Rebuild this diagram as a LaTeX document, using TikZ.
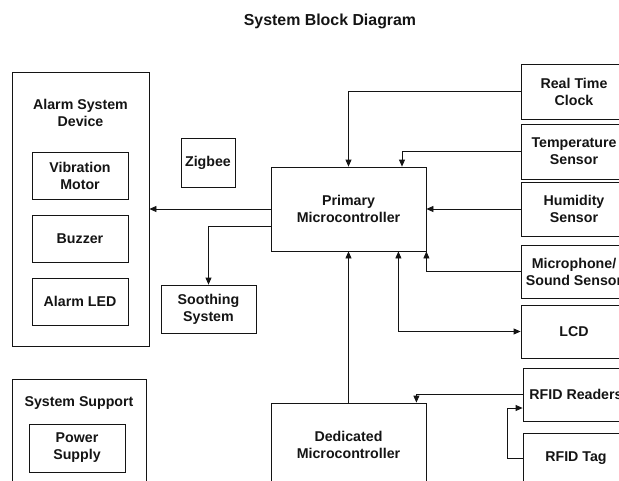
\documentclass[tikz,border=0pt]{standalone}
\usepackage{fontspec}
\setmainfont{Liberation Sans}
\usepackage{xcolor}
\usetikzlibrary{arrows.meta,positioning,calc}
\definecolor{dink}{HTML}{141414}

\begin{document}
\begin{tikzpicture}[x=1pt,y=-1pt,
  every node/.style={font=\bfseries\fontsize{14.2}{17}\selectfont,text=dink,align=center},
  blk/.style={draw=dink,line width=0.8pt,inner sep=0pt},
  wire/.style={draw=dink,line width=0.8pt},
  arr/.style={wire,-{Triangle[length=7pt,width=6pt]}},
  dbl/.style={wire,{Triangle[length=7pt,width=6pt]}-{Triangle[length=7pt,width=6pt]}}]
  \useasboundingbox (0,0) rectangle (619,480);
  \clip (0,0) rectangle (619,480);

  \node[font=\bfseries\fontsize{15.9}{19}\selectfont] (title) at (330,21) {System Block Diagram};

  \node[blk,minimum width=137,minimum height=274] (alarm) at (80.5,209) {};
  \node (alarmlbl) at (80.5,113) {Alarm System\\Device};
  \node[blk,minimum width=96,minimum height=47] (vib) at (80,175.5) {Vibration\\Motor};
  \node[blk,minimum width=96,minimum height=47] (buzzer) at (80,238.5) {Buzzer};
  \node[blk,minimum width=96,minimum height=47] (led) at (80,301.5) {Alarm LED};

  \node[blk,minimum width=134,minimum height=141] (support) at (79,449.5) {};
  \node (supportlbl) at (79,403) {System Support};
  \node[blk,minimum width=96,minimum height=48] (power) at (77,448) {Power\\Supply};

  \node[blk,minimum width=54,minimum height=49] (zigbee) at (208,162.5) {Zigbee};
  \node[blk,minimum width=95,minimum height=48] (soothing) at (208.5,309) {Soothing\\System};

  \node[blk,minimum width=155,minimum height=84] (primary) at (348.5,209) {Primary\\Microcontroller};
  \node[blk,minimum width=155,minimum height=84] (dedicated) at (348.5,445) {Dedicated\\Microcontroller};

  \node[blk,minimum width=106,minimum height=55] (rtc) at (574,91.5) {Real Time\\Clock};
  \node[blk,minimum width=106,minimum height=55] (temp) at (574,151.5) {Temperature\\Sensor};
  \node[blk,minimum width=106,minimum height=54] (humid) at (574,209) {Humidity\\Sensor};
  \node[blk,minimum width=106,minimum height=53] (mic) at (574,271.5) {Microphone/\\Sound Sensor};
  \node[blk,minimum width=106,minimum height=53] (lcd) at (574,331.5) {LCD};
  \node[blk,minimum width=106,minimum height=53] (readers) at (576,394.5) {RFID Readers};
  \node[blk,minimum width=106,minimum height=50] (tag) at (576,458) {RFID Tag};

  \draw[arr] (primary.west) -- (alarm.east);
  \draw[arr] ($(primary.west)+(0,17)$) -| (soothing.north);
  \draw[arr] (rtc.west) -| (primary.north);
  \draw[arr] (temp.west) -| ($(primary.north)+(53.5,0)$);
  \draw[arr] (humid.west) -- (primary.east);
  \draw[arr] (mic.west) -| (primary.south east);
  \draw[dbl] ($(primary.south east)+(-28,0)$) |- (lcd.west);
  \draw[arr] (dedicated.north) -- (primary.south);
  \draw[arr] (readers.west) -| ($(dedicated.north east)+(-10,0)$);
  \draw[arr] (tag.west) -- ++(-15,0) |- ($(readers.west)+(0,13.5)$);
\end{tikzpicture}
\end{document}
